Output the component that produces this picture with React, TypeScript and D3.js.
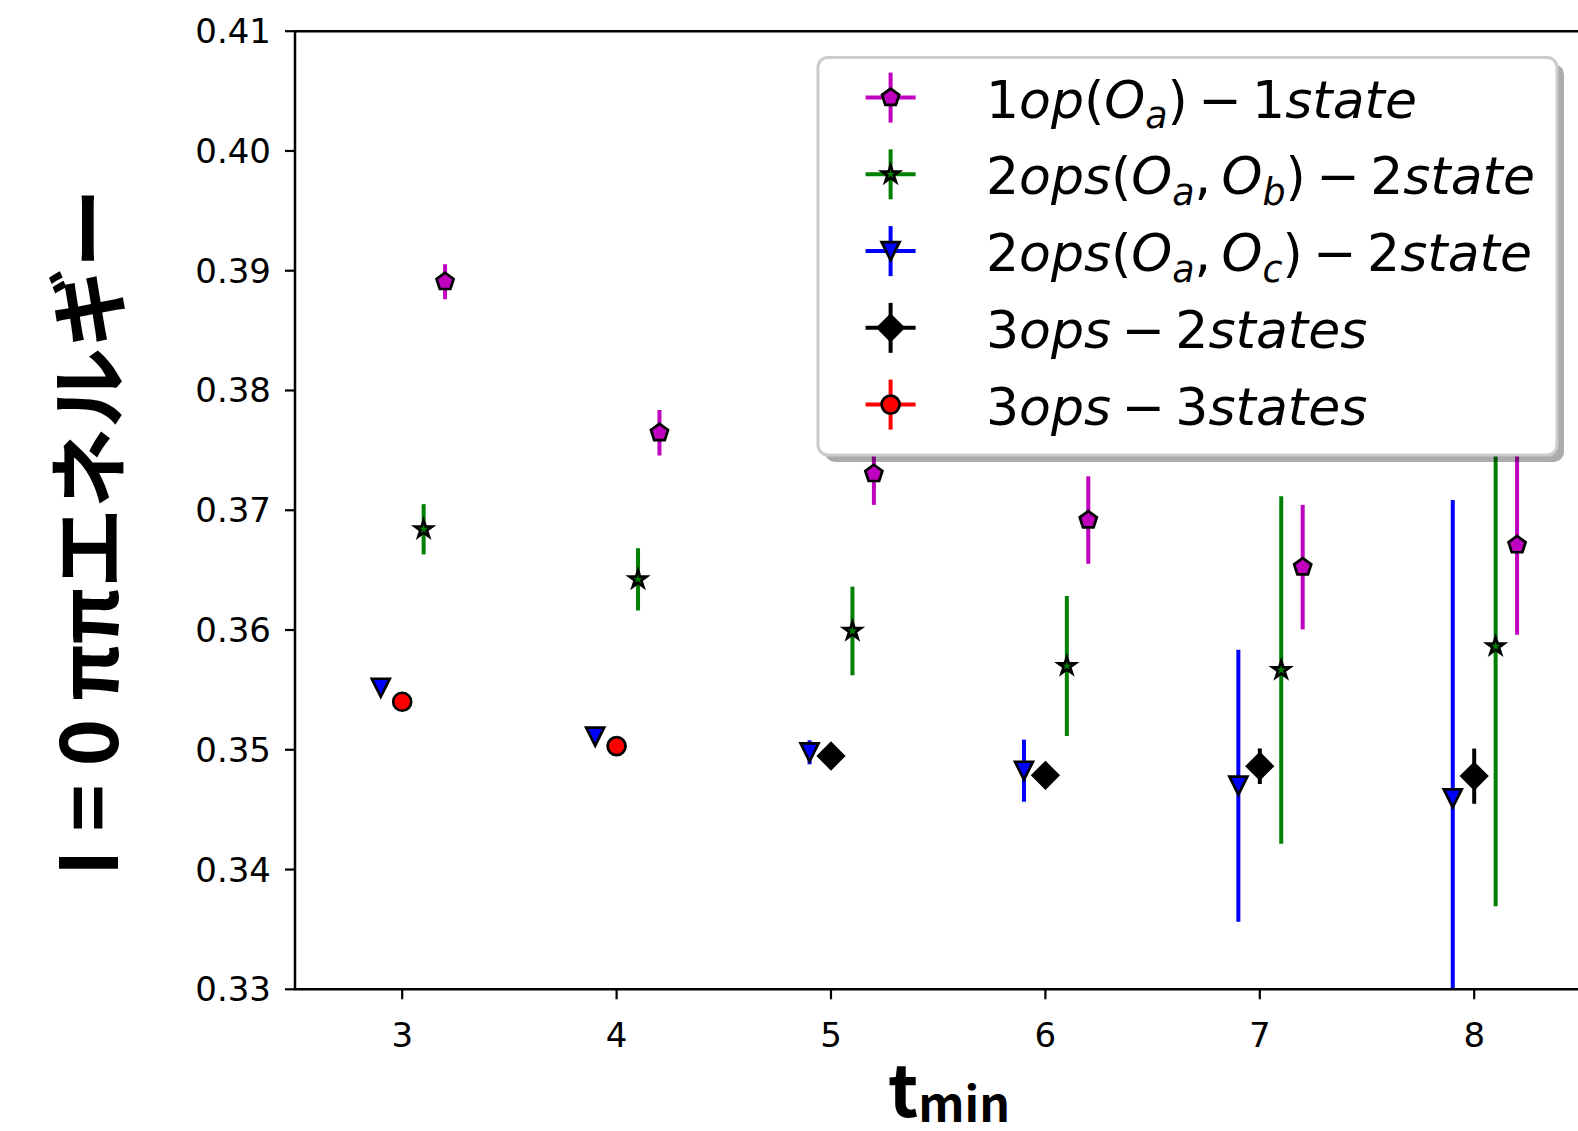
import React from 'react';
import * as d3 from 'd3';

// ---- data ----
const xTicks = [3, 4, 5, 6, 7, 8];
const yTicks = [0.33, 0.34, 0.35, 0.36, 0.37, 0.38, 0.39, 0.4, 0.41];

const op1X = [3.2, 4.2, 5.2, 6.2, 7.2, 8.2];
const op1Y = [0.38908, 0.37647, 0.37305, 0.36918, 0.36525, 0.3671];
const op1Err = [0.00146, 0.0019, 0.0026, 0.00365, 0.0052, 0.0075];

const ops2bX = [3.1, 4.1, 5.1, 6.1, 7.1, 8.1];
const ops2bY = [0.36841, 0.36423, 0.35992, 0.35699, 0.35666, 0.35864];
const ops2bErr = [0.0021, 0.0026, 0.0037, 0.00585, 0.0145, 0.0217];

const ops2cX = [2.9, 3.9, 4.9, 5.9, 6.9, 7.9];
const ops2cY = [0.35518, 0.35109, 0.34979, 0.34825, 0.347, 0.34595];
const ops2cErr = [0.0005, 0.0005, 0.001, 0.0026, 0.01135, 0.0249];

const ops3s2X = [5, 6, 7, 8];
const ops3s2Y = [0.34948, 0.34787, 0.34863, 0.3478];
const ops3s2Err = [0.0005, 0.0005, 0.00148, 0.0023];

const ops3s3X = [3, 4];
const ops3s3Y = [0.35401, 0.35031];
const ops3s3Err = [0.0004, 0.0004];

const seriesLabels = [
  '1op(O_a)\u2009−\u20091state',
  '2ops(O_a,\u2009O_b)\u2009−\u20092state',
  '2ops(O_a,\u2009O_c)\u2009−\u20092state',
  '3ops\u2009−\u20092states',
  '3ops\u2009−\u20093states',
];
const seriesColors = ['#bf00bf', '#008000', '#0000ff', '#000000', '#ff0000'];
const seriesMarkers = ['pentagon', 'star', 'triangleDown', 'diamond', 'circle'];

const xLabelMain = 't';
const xLabelSub = 'min';
const yLabel = 'I = 0 ππエネルギー';

// ---- layout ----
const W = 1578;
const H = 1131;
const plotL = 295;
const plotR = 1581.4;
const plotT = 31.2;
const plotB = 989.3;
const MS = 18;

function markerPath(kind: string, ms: number): string {
  const r = ms / 2;
  const pts: [number, number][] = [];
  if (kind === 'pentagon') {
    for (let k = 0; k < 5; k++) {
      const a = (-90 + k * 72) * Math.PI / 180;
      pts.push([r * Math.cos(a), r * Math.sin(a)]);
    }
  } else if (kind === 'star') {
    const ri = r * 0.381966;
    for (let k = 0; k < 10; k++) {
      const a = (-90 + k * 36) * Math.PI / 180;
      const rr = k % 2 === 0 ? r : ri;
      pts.push([rr * Math.cos(a), rr * Math.sin(a)]);
    }
  } else if (kind === 'triangleDown') {
    pts.push([0, r], [-r, -r], [r, -r]);
  } else if (kind === 'diamond') {
    const h = ms * Math.SQRT1_2;
    pts.push([0, -h], [h, 0], [0, h], [-h, 0]);
  } else {
    const p = d3.path();
    p.arc(0, 0, r, 0, Math.PI * 2);
    p.closePath();
    return p.toString();
  }
  return 'M' + pts.map(p => p[0].toFixed(2) + ',' + p[1].toFixed(2)).join('L') + 'Z';
}

function parseMath(s: string) {
  const segs: { t: string; it: boolean; sub: boolean }[] = [];
  for (let i = 0; i < s.length; i++) {
    let ch = s[i];
    let sub = false;
    if (ch === '_') { sub = true; i++; ch = s[i]; }
    const it = /[A-Za-z]/.test(ch);
    const last = segs[segs.length - 1];
    if (last && !sub && !last.sub && last.it === it) last.t += ch;
    else segs.push({ t: ch, it, sub });
  }
  return segs;
}

function MathLabel({ x, y, s, size }: { x: number; y: number; s: string; size: number }) {
  const segs = parseMath(s);
  const drop = size * 0.2;
  let prevSub = false;
  return (
    <text x={x} y={y} fontFamily="DejaVu Sans" fontSize={size} fill="#000" style={{ whiteSpace: 'pre' }}>
      {segs.map((g, i) => {
        let dy = 0;
        if (g.sub && !prevSub) dy = drop;
        if (!g.sub && prevSub) dy = -drop;
        prevSub = g.sub;
        return (
          <tspan key={i} dy={dy} fontStyle={g.it ? 'oblique' : 'normal'} fontSize={g.sub ? size * 0.7 : size}>
            {g.t}
          </tspan>
        );
      })}
    </text>
  );
}

export default function App() {
  const x = d3.scaleLinear().domain([2.5, 8.5]).range([plotL, plotR]);
  const y = d3.scaleLinear().domain([0.33, 0.41]).range([plotB, plotT]);

  const series = [
    { xs: op1X, ys: op1Y, es: op1Err },
    { xs: ops2bX, ys: ops2bY, es: ops2bErr },
    { xs: ops2cX, ys: ops2cY, es: ops2cErr },
    { xs: ops3s2X, ys: ops3s2Y, es: ops3s2Err },
    { xs: ops3s3X, ys: ops3s3Y, es: ops3s3Err },
  ].map((s, i) => ({ ...s, label: seriesLabels[i], color: seriesColors[i], marker: seriesMarkers[i] }));

  const legL = 818, legT = 57.4, legW = 739, legH = 397.6;
  const rowY0 = 97.6, rowStep = 76.75;
  const handleX = 890.6;
  const textX = 986;

  return (
    <div style={{ position: 'absolute', left: 0, top: 0, width: W, height: H, overflow: 'hidden', background: '#fff' }}>
      <svg width={W} height={H} viewBox={`0 0 ${W} ${H}`} style={{ display: 'block' }}>
        <defs>
          <clipPath id="plotClip">
            <rect x={plotL} y={plotT} width={plotR - plotL} height={plotB - plotT} />
          </clipPath>
        </defs>
        <rect x={0} y={0} width={W} height={H} fill="#fff" />

        {/* data */}
        <g clipPath="url(#plotClip)">
          {series.map((s, si) => (
            <g key={si}>
              {s.xs.map((xv, i) => (
                <line key={'e' + i} x1={x(xv)} x2={x(xv)} y1={y(s.ys[i] - s.es[i])} y2={y(s.ys[i] + s.es[i])}
                  stroke={s.color} strokeWidth={4} />
              ))}
              {s.xs.map((xv, i) => (
                <path key={'m' + i} d={markerPath(s.marker, MS)} transform={`translate(${x(xv)},${y(s.ys[i])})`}
                  fill={s.color} stroke="#000" strokeWidth={2.7} strokeLinejoin="miter" />
              ))}
            </g>
          ))}
        </g>

        {/* spines */}
        <line x1={plotL} x2={plotL} y1={plotT} y2={plotB} stroke="#000" strokeWidth={2.5} />
        <line x1={plotL - 1.25} x2={plotR} y1={plotB} y2={plotB} stroke="#000" strokeWidth={2.5} />
        <line x1={plotL - 1.25} x2={plotR} y1={plotT} y2={plotT} stroke="#000" strokeWidth={2.5} />
        <line x1={plotR} x2={plotR} y1={plotT} y2={plotB} stroke="#000" strokeWidth={2.5} />

        {/* y ticks */}
        {yTicks.map(t => (
          <g key={t}>
            <line x1={plotL - 10} x2={plotL} y1={y(t)} y2={y(t)} stroke="#000" strokeWidth={2.2} />
            <text x={plotL - 24} y={y(t) + 12} textAnchor="end" fontFamily="DejaVu Sans" fontSize={34} fill="#000">
              {t.toFixed(2)}
            </text>
          </g>
        ))}
        {/* x ticks */}
        {xTicks.map(t => (
          <g key={t}>
            <line x1={x(t)} x2={x(t)} y1={plotB} y2={plotB + 10} stroke="#000" strokeWidth={2.2} />
            <text x={x(t)} y={1047} textAnchor="middle" fontFamily="DejaVu Sans" fontSize={34} fill="#000">
              {t}
            </text>
          </g>
        ))}

        {/* axis labels */}
        <text x={949} y={1117} textAnchor="middle" fontFamily="'Noto Sans CJK JP'" fontWeight="bold" fontSize={72} fill="#000">
          {xLabelMain}
          <tspan dy={5} fontSize={48}>{xLabelSub}</tspan>
        </text>
        <text transform={`translate(118,532) rotate(-90)`} textAnchor="middle" fontFamily="'Noto Sans CJK JP'"
          fontWeight="bold" fontSize={80} fill="#000">
          {yLabel}
        </text>

        {/* legend */}
        <rect x={legL + 7} y={legT + 7} width={legW} height={legH} rx={10} ry={10} fill="#000" fillOpacity={0.33} />
        <rect x={legL} y={legT} width={legW} height={legH} rx={10} ry={10} fill="#fff" stroke="#cccccc" strokeWidth={3} />
        {series.map((s, i) => {
          const cy = rowY0 + i * rowStep;
          return (
            <g key={'leg' + i}>
              <line x1={handleX - 25} x2={handleX + 25} y1={cy} y2={cy} stroke={s.color} strokeWidth={4} />
              <line x1={handleX} x2={handleX} y1={cy - 25} y2={cy + 25} stroke={s.color} strokeWidth={4} />
              <path d={markerPath(s.marker, MS)} transform={`translate(${handleX},${cy})`} fill={s.color}
                stroke="#000" strokeWidth={2.7} />
              <MathLabel x={textX} y={cy + 20} s={s.label} size={52} />
            </g>
          );
        })}
      </svg>
    </div>
  );
}
